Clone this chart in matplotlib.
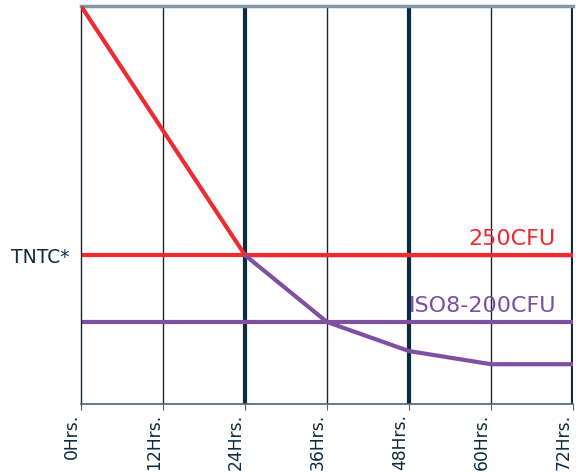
import matplotlib.pyplot as plt

# hours on the x axis, relative count on the y axis (0 = bottom, 100 = top)
hours = [0, 12, 24, 36, 48, 60, 72]
hour_labels = ['0Hrs.', '12Hrs.', '24Hrs.', '36Hrs.', '48Hrs.', '60Hrs.', '72Hrs.']

red_x = [0, 24, 72]
red_y = [100, 37.4, 37.4]

purple_x = [24, 36, 48, 60, 72]
purple_y = [37.4, 20.6, 13.3, 10.0, 10.0]

limit_250 = 37.4
limit_200 = 20.6

red = '#EE2B30'
purple = '#7F4FA0'
navy = '#0C2B40'

fig = plt.figure(figsize=(5.76, 4.72), dpi=100)
ax = fig.add_axes([81/576, 68/472, 492/576, 398/472])
ax.set_xlim(0, 72)
ax.set_ylim(0, 100)

# vertical grid lines, thick every 24 hours
for h in hours[1:]:
    lw = 3 if h % 24 == 0 else 1
    ax.axvline(h, color=navy, lw=lw, zorder=1)

ax.axhline(limit_250, color=red, lw=3, zorder=2)
ax.axhline(limit_200, color=purple, lw=3, zorder=2)
ax.plot(red_x, red_y, color=red, lw=3, zorder=3, solid_capstyle='butt')
ax.plot(purple_x, purple_y, color=purple, lw=3, zorder=3, solid_capstyle='butt')

ax.text(69.5, limit_250 + 1.5, '250CFU', color=red, fontsize=16, ha='right', va='bottom')
ax.text(69.5, limit_200 + 1.5, 'ISO8-200CFU', color=purple, fontsize=16, ha='right', va='bottom')

ax.spines['right'].set_visible(False)
ax.spines['left'].set_color(navy)
ax.spines['left'].set_linewidth(1)
ax.spines['top'].set_color('#8497A6')
ax.spines['top'].set_linewidth(2.5)
ax.spines['bottom'].set_color('#4A6478')
ax.spines['bottom'].set_linewidth(1.2)

ax.set_xticks(hours)
ax.set_xticklabels(hour_labels, rotation=90, fontsize=12.3, color=navy, ha='right')
ax.set_yticks([limit_250])
ax.set_yticklabels(['TNTC*'], fontsize=13.5, color=navy)
ax.tick_params(axis='x', length=4, color='#4A6478', pad=3)
ax.tick_params(axis='y', length=0, pad=8)

fig.savefig('out.png', dpi=100)
